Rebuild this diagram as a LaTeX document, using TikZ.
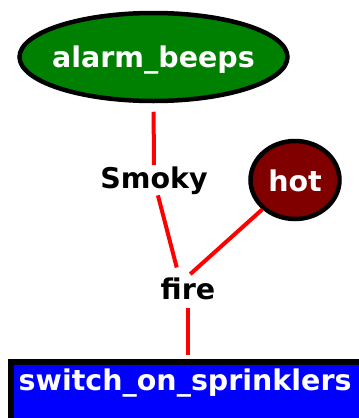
\documentclass[tikz,border=0pt]{standalone}
\usepackage{fontspec}
\setmainfont{DejaVu Sans}
\usetikzlibrary{shapes.geometric}
\definecolor{alarmgreen}{RGB}{0,128,0}
\definecolor{hotred}{RGB}{128,0,0}
\definecolor{actblue}{RGB}{0,0,255}
\definecolor{linkred}{RGB}{255,0,0}
\tikzset{
    every node/.style={font=\bfseries\fontsize{28.5}{32}\selectfont},
    evt/.style={ellipse,draw=black,line width=4.5pt,text=white,inner xsep=-20pt,inner ysep=0pt,text depth=0pt},
    act/.style={rectangle,draw=black,line width=5.5pt,fill=actblue,text=white,anchor=north west,
        inner xsep=8pt,inner ysep=6.5pt,text width=390pt,text height=22pt,text depth=60pt,align=left},
    lbl/.style={inner sep=1pt,anchor=base},
    link/.style={linkred,line width=4pt}
}
\begin{document}
\begin{tikzpicture}[x=1pt,y=-1pt]
                    \useasboundingbox (0,0) rectangle (359,418);
                    \clip (0,0) rectangle (359,418);

                    \node[evt,fill=alarmgreen,minimum width=268pt,minimum height=88pt,text height=20pt] (alarm) at (153.5,57) {alarm\_beeps};
                    \node[evt,fill=hotred,minimum width=89pt,minimum height=78pt,text height=22pt] (hot) at (295,180) {hot};
                    \node[lbl] (smoky) at (154,188) {Smoky};
                    \node[lbl] (fire) at (188,299) {fire};
                    \node[act] (sprinklers) at (8,359) {switch\_on\_sprinklers};

                    \draw[link,shorten <=8.5pt] (alarm.south) -- (smoky.north);
                    \draw[link,shorten >=9pt] (smoky) -- ([xshift=-9pt]fire.north);
                    \draw[link,shorten >=3pt] (hot) -- (fire.north);
                    \draw[link,shorten <=7pt,shorten >=4pt] (fire.south) -- (fire.south |- sprinklers.north);
\end{tikzpicture}
\end{document}
